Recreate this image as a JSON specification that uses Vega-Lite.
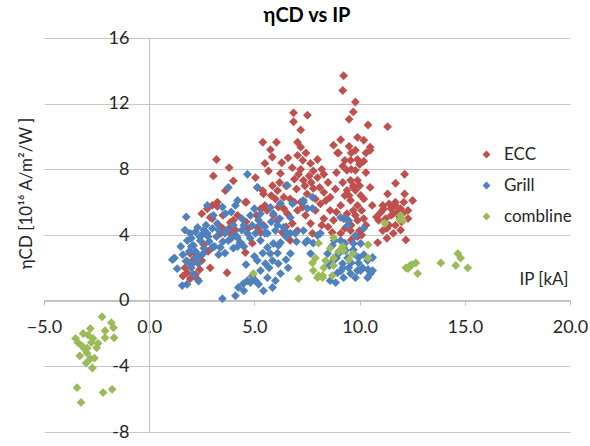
{
  "$schema": "https://vega.github.io/schema/vega-lite/v6.json",
  "width": 526,
  "height": 394,
  "autosize": {"type": "none"},
  "padding": {"left": 44, "top": 38, "right": 20, "bottom": 14},
  "title": {"text": "ηCD vs  IP", "fontSize": 20, "fontWeight": "bold", "font": "Lato", "color": "#000000", "anchor": "middle", "offset": 3},
  "config": {
    "font": "Lato",
    "view": {"stroke": null},
    "axis": {"labelFont": "Lato", "titleFont": "Lato", "labelColor": "#262626", "titleColor": "#262626", "titleFontWeight": "normal"}
  },
  "data": {"values": [
    {"s":"ECC","x":9.24,"y":13.7},{"s":"ECC","x":9.2,"y":12.8},{"s":"ECC","x":9.8,"y":12.1},{"s":"ECC","x":9.7,"y":11.5},{"s":"ECC","x":9.5,"y":11.05},{"s":"ECC","x":10.4,"y":10.7},{"s":"ECC","x":11.33,"y":10.6},{"s":"ECC","x":6.86,"y":11.44},{"s":"ECC","x":6.86,"y":10.9},{"s":"ECC","x":7.52,"y":11.3},
    {"s":"ECC","x":7.2,"y":10.4},{"s":"ECC","x":9.1,"y":9.8},{"s":"ECC","x":9.9,"y":9.95},{"s":"ECC","x":10.2,"y":9.77},{"s":"ECC","x":10.5,"y":9.16},{"s":"ECC","x":6.05,"y":9.65},{"s":"ECC","x":5.4,"y":9.65},{"s":"ECC","x":7.05,"y":9.65},{"s":"ECC","x":7.2,"y":9.35},{"s":"ECC","x":8.76,"y":9.47},
    {"s":"ECC","x":8.95,"y":9.0},{"s":"ECC","x":5.76,"y":9.2},{"s":"ECC","x":5.85,"y":8.75},{"s":"ECC","x":3.2,"y":8.6},{"s":"ECC","x":3.8,"y":8.1},{"s":"ECC","x":3.05,"y":7.6},{"s":"ECC","x":4.0,"y":7.3},{"s":"ECC","x":5.05,"y":7.5},{"s":"ECC","x":12.14,"y":7.7},{"s":"ECC","x":11.71,"y":7.15},
    {"s":"ECC","x":11.33,"y":6.5},{"s":"ECC","x":12.14,"y":6.5},{"s":"ECC","x":12.52,"y":6.1},{"s":"ECC","x":11.7,"y":6.0},{"s":"ECC","x":6.6,"y":8.7},{"s":"ECC","x":7.05,"y":8.85},{"s":"ECC","x":7.3,"y":8.55},{"s":"ECC","x":7.67,"y":8.36},{"s":"ECC","x":6.8,"y":8.1},{"s":"ECC","x":7.2,"y":8.0},
    {"s":"ECC","x":7.8,"y":7.9},{"s":"ECC","x":8.0,"y":7.5},{"s":"ECC","x":8.5,"y":7.2},{"s":"ECC","x":7.8,"y":6.84},{"s":"ECC","x":8.3,"y":6.6},{"s":"ECC","x":8.6,"y":6.3},{"s":"ECC","x":7.33,"y":7.33},{"s":"ECC","x":7.5,"y":6.5},{"s":"ECC","x":7.2,"y":6.0},{"s":"ECC","x":7.05,"y":5.5},
    {"s":"ECC","x":7.43,"y":5.2},{"s":"ECC","x":8.14,"y":5.9},{"s":"ECC","x":8.6,"y":5.5},{"s":"ECC","x":8.76,"y":4.9},{"s":"ECC","x":7.67,"y":4.7},{"s":"ECC","x":7.76,"y":4.1},{"s":"ECC","x":9.1,"y":4.1},{"s":"ECC","x":8.7,"y":4.15},{"s":"ECC","x":5.5,"y":8.36},{"s":"ECC","x":5.67,"y":7.9},
    {"s":"ECC","x":6.24,"y":7.75},{"s":"ECC","x":5.86,"y":7.0},{"s":"ECC","x":6.1,"y":6.7},{"s":"ECC","x":6.4,"y":6.3},{"s":"ECC","x":5.43,"y":6.5},{"s":"ECC","x":5.14,"y":6.9},{"s":"ECC","x":6.14,"y":5.7},{"s":"ECC","x":6.57,"y":5.3},{"s":"ECC","x":6.1,"y":4.9},{"s":"ECC","x":5.5,"y":5.8},
    {"s":"ECC","x":5.14,"y":4.46},{"s":"ECC","x":6.33,"y":4.15},{"s":"ECC","x":6.7,"y":3.67},{"s":"ECC","x":7.05,"y":4.27},{"s":"ECC","x":6.8,"y":4.7},{"s":"ECC","x":6.5,"y":7.0},{"s":"ECC","x":6.9,"y":7.4},{"s":"ECC","x":7.0,"y":6.8},{"s":"ECC","x":7.6,"y":7.6},{"s":"ECC","x":8.2,"y":8.0},
    {"s":"ECC","x":7.9,"y":5.5},{"s":"ECC","x":8.3,"y":5.0},{"s":"ECC","x":6.3,"y":8.4},{"s":"ECC","x":7.45,"y":9.0},{"s":"ECC","x":8.0,"y":8.6},{"s":"ECC","x":6.7,"y":6.2},{"s":"ECC","x":8.1,"y":6.9},{"s":"ECC","x":9.0,"y":9.0},{"s":"ECC","x":9.3,"y":8.55},{"s":"ECC","x":9.57,"y":8.55},
    {"s":"ECC","x":9.4,"y":7.94},{"s":"ECC","x":9.8,"y":7.94},{"s":"ECC","x":9.57,"y":7.33},{"s":"ECC","x":9.9,"y":7.33},{"s":"ECC","x":9.4,"y":6.72},{"s":"ECC","x":9.8,"y":6.72},{"s":"ECC","x":10.05,"y":6.41},{"s":"ECC","x":9.57,"y":6.11},{"s":"ECC","x":9.9,"y":5.8},{"s":"ECC","x":9.7,"y":5.5},
    {"s":"ECC","x":10.1,"y":5.5},{"s":"ECC","x":9.9,"y":4.89},{"s":"ECC","x":9.57,"y":4.27},{"s":"ECC","x":10.0,"y":4.27},{"s":"ECC","x":10.5,"y":6.9},{"s":"ECC","x":10.5,"y":9.35},{"s":"ECC","x":10.3,"y":9.0},{"s":"ECC","x":9.8,"y":9.16},{"s":"ECC","x":9.1,"y":5.8},{"s":"ECC","x":8.9,"y":5.4},
    {"s":"ECC","x":9.3,"y":6.4},{"s":"ECC","x":9.2,"y":7.2},{"s":"ECC","x":10.3,"y":7.8},{"s":"ECC","x":10.0,"y":8.3},{"s":"ECC","x":9.5,"y":9.4},{"s":"ECC","x":10.2,"y":5.0},{"s":"ECC","x":10.3,"y":4.6},{"s":"ECC","x":9.25,"y":5.0},{"s":"ECC","x":8.85,"y":6.8},{"s":"ECC","x":8.9,"y":7.8},
    {"s":"ECC","x":10.6,"y":5.8},{"s":"ECC","x":9.9,"y":3.9},{"s":"ECC","x":10.86,"y":3.54},{"s":"ECC","x":9.6,"y":3.7},{"s":"ECC","x":11.0,"y":5.37},{"s":"ECC","x":11.15,"y":5.6},{"s":"ECC","x":11.5,"y":5.6},{"s":"ECC","x":11.7,"y":5.8},{"s":"ECC","x":11.95,"y":5.6},{"s":"ECC","x":11.6,"y":5.3},
    {"s":"ECC","x":11.9,"y":5.1},{"s":"ECC","x":11.7,"y":4.6},{"s":"ECC","x":11.95,"y":4.3},{"s":"ECC","x":11.24,"y":5.0},{"s":"ECC","x":11.1,"y":4.27},{"s":"ECC","x":11.4,"y":4.6},{"s":"ECC","x":12.1,"y":6.0},{"s":"ECC","x":12.3,"y":5.5},{"s":"ECC","x":12.2,"y":3.7},{"s":"ECC","x":11.3,"y":3.8},
    {"s":"ECC","x":10.9,"y":4.9},{"s":"ECC","x":11.4,"y":5.9},{"s":"ECC","x":12.0,"y":4.8},{"s":"ECC","x":12.3,"y":5.0},{"s":"ECC","x":3.24,"y":5.74},{"s":"ECC","x":2.9,"y":5.07},{"s":"ECC","x":3.5,"y":5.2},{"s":"ECC","x":4.2,"y":5.2},{"s":"ECC","x":4.57,"y":6.0},{"s":"ECC","x":5.3,"y":5.6},
    {"s":"ECC","x":5.1,"y":5.2},{"s":"ECC","x":1.95,"y":2.87},{"s":"ECC","x":2.2,"y":2.9},{"s":"ECC","x":2.5,"y":2.44},{"s":"ECC","x":1.8,"y":1.7},{"s":"ECC","x":1.95,"y":1.34},{"s":"ECC","x":1.6,"y":1.5},{"s":"ECC","x":2.2,"y":1.6},{"s":"ECC","x":2.4,"y":1.9},{"s":"ECC","x":3.7,"y":1.7},
    {"s":"ECC","x":2.9,"y":2.0},{"s":"ECC","x":4.57,"y":2.93},{"s":"ECC","x":3.4,"y":4.1},{"s":"ECC","x":3.86,"y":4.1},{"s":"ECC","x":4.33,"y":3.54},{"s":"ECC","x":3.3,"y":4.6},{"s":"ECC","x":3.86,"y":4.5},{"s":"ECC","x":4.7,"y":4.4},{"s":"ECC","x":5.3,"y":4.15},{"s":"ECC","x":5.6,"y":5.5},
    {"s":"ECC","x":3.62,"y":6.7},{"s":"ECC","x":4.62,"y":6.0},{"s":"ECC","x":3.24,"y":6.0},{"s":"ECC","x":2.76,"y":5.6},{"s":"ECC","x":3.0,"y":5.0},{"s":"ECC","x":5.4,"y":6.7},{"s":"ECC","x":5.43,"y":4.6},{"s":"ECC","x":3.86,"y":4.76},{"s":"ECC","x":4.1,"y":4.3},{"s":"ECC","x":2.0,"y":2.2},
    {"s":"ECC","x":1.7,"y":2.0},{"s":"ECC","x":2.6,"y":3.4},{"s":"ECC","x":4.9,"y":3.5},{"s":"ECC","x":2.8,"y":3.0},
    {"s":"ECC","x":9.6,"y":8.0},{"s":"ECC","x":9.7,"y":7.0},{"s":"ECC","x":10.0,"y":7.0},{"s":"ECC","x":9.5,"y":6.4},{"s":"ECC","x":9.7,"y":6.9},{"s":"ECC","x":10.2,"y":6.2},{"s":"ECC","x":9.4,"y":5.3},{"s":"ECC","x":9.8,"y":5.2},{"s":"ECC","x":9.6,"y":4.6},{"s":"ECC","x":10.1,"y":4.0},
    {"s":"ECC","x":9.3,"y":4.4},{"s":"ECC","x":9.6,"y":9.0},{"s":"ECC","x":9.9,"y":8.6},{"s":"ECC","x":9.2,"y":8.2},{"s":"ECC","x":10.2,"y":8.5},{"s":"ECC","x":7.4,"y":7.0},{"s":"ECC","x":7.7,"y":7.2},{"s":"ECC","x":8.3,"y":7.7},{"s":"ECC","x":8.4,"y":6.1},{"s":"ECC","x":7.9,"y":6.2},
    {"s":"ECC","x":7.3,"y":5.7},{"s":"ECC","x":6.9,"y":6.0},{"s":"ECC","x":6.4,"y":5.6},{"s":"ECC","x":6.0,"y":6.2},{"s":"ECC","x":8.5,"y":4.5},{"s":"ECC","x":8.2,"y":4.6},{"s":"ECC","x":6.5,"y":4.5},{"s":"ECC","x":5.9,"y":5.2},{"s":"ECC","x":6.2,"y":7.2},{"s":"ECC","x":7.1,"y":7.7},
    {"s":"ECC","x":5.8,"y":6.4},{"s":"ECC","x":11.5,"y":5.2},{"s":"ECC","x":11.8,"y":5.4},{"s":"ECC","x":11.3,"y":4.4},{"s":"ECC","x":11.6,"y":4.1},{"s":"ECC","x":12.05,"y":5.3},{"s":"ECC","x":11.1,"y":5.8},{"s":"ECC","x":10.8,"y":5.1},{"s":"ECC","x":2.1,"y":2.5},{"s":"ECC","x":1.8,"y":2.4},
    {"s":"ECC","x":2.3,"y":1.3},{"s":"ECC","x":3.5,"y":4.4},{"s":"ECC","x":4.0,"y":4.9},{"s":"ECC","x":4.6,"y":4.8},{"s":"ECC","x":2.5,"y":5.3},{"s":"ECC","x":3.0,"y":5.8},
    {"s":"Grill","x":4.67,"y":7.7},{"s":"Grill","x":5.14,"y":6.9},{"s":"Grill","x":3.76,"y":6.9},{"s":"Grill","x":4.2,"y":6.1},{"s":"Grill","x":2.76,"y":5.8},{"s":"Grill","x":1.76,"y":5.1},{"s":"Grill","x":3.48,"y":5.7},{"s":"Grill","x":3.62,"y":5.3},{"s":"Grill","x":3.05,"y":5.2},{"s":"Grill","x":3.24,"y":4.7},
    {"s":"Grill","x":2.3,"y":4.46},{"s":"Grill","x":1.95,"y":4.1},{"s":"Grill","x":1.81,"y":3.66},{"s":"Grill","x":2.1,"y":3.36},{"s":"Grill","x":2.43,"y":3.66},{"s":"Grill","x":2.76,"y":4.1},{"s":"Grill","x":2.19,"y":2.6},{"s":"Grill","x":1.95,"y":2.26},{"s":"Grill","x":1.57,"y":0.92},{"s":"Grill","x":1.1,"y":2.5},
    {"s":"Grill","x":1.33,"y":1.95},{"s":"Grill","x":2.33,"y":2.26},{"s":"Grill","x":2.57,"y":2.87},{"s":"Grill","x":3.0,"y":3.24},{"s":"Grill","x":3.38,"y":3.24},{"s":"Grill","x":3.76,"y":3.66},{"s":"Grill","x":4.19,"y":3.85},{"s":"Grill","x":4.33,"y":3.54},{"s":"Grill","x":4.67,"y":4.1},{"s":"Grill","x":5.05,"y":4.1},
    {"s":"Grill","x":4.9,"y":4.58},{"s":"Grill","x":4.81,"y":5.19},{"s":"Grill","x":5.29,"y":5.3},{"s":"Grill","x":5.76,"y":5.68},{"s":"Grill","x":5.9,"y":5.3},{"s":"Grill","x":6.24,"y":5.92},{"s":"Grill","x":6.57,"y":7.02},{"s":"Grill","x":6.81,"y":5.92},{"s":"Grill","x":6.71,"y":5.07},{"s":"Grill","x":6.38,"y":4.46},
    {"s":"Grill","x":6.0,"y":4.27},{"s":"Grill","x":5.62,"y":4.1},{"s":"Grill","x":5.29,"y":3.66},{"s":"Grill","x":5.9,"y":3.48},{"s":"Grill","x":6.24,"y":3.54},{"s":"Grill","x":6.71,"y":4.1},{"s":"Grill","x":6.95,"y":4.1},{"s":"Grill","x":7.33,"y":4.27},{"s":"Grill","x":7.76,"y":6.3},{"s":"Grill","x":7.33,"y":6.0},
    {"s":"Grill","x":7.76,"y":5.62},{"s":"Grill","x":8.14,"y":4.1},{"s":"Grill","x":7.52,"y":3.66},{"s":"Grill","x":3.48,"y":0.12},{"s":"Grill","x":4.1,"y":0.3},{"s":"Grill","x":4.24,"y":0.8},{"s":"Grill","x":4.48,"y":1.04},{"s":"Grill","x":4.67,"y":1.22},{"s":"Grill","x":4.81,"y":1.1},{"s":"Grill","x":5.05,"y":1.22},
    {"s":"Grill","x":5.43,"y":0.6},{"s":"Grill","x":5.86,"y":0.8},{"s":"Grill","x":5.62,"y":1.4},{"s":"Grill","x":5.29,"y":1.83},{"s":"Grill","x":5.52,"y":2.26},{"s":"Grill","x":5.86,"y":2.44},{"s":"Grill","x":6.14,"y":2.26},{"s":"Grill","x":5.76,"y":2.87},{"s":"Grill","x":5.14,"y":2.44},{"s":"Grill","x":5.0,"y":2.7},
    {"s":"Grill","x":5.62,"y":3.24},{"s":"Grill","x":6.14,"y":3.36},{"s":"Grill","x":6.71,"y":2.87},{"s":"Grill","x":6.6,"y":2.0},{"s":"Grill","x":6.24,"y":1.65},{"s":"Grill","x":6.0,"y":1.22},{"s":"Grill","x":6.5,"y":2.5},{"s":"Grill","x":8.71,"y":3.36},{"s":"Grill","x":9.1,"y":3.66},{"s":"Grill","x":9.24,"y":3.24},
    {"s":"Grill","x":9.0,"y":2.87},{"s":"Grill","x":9.43,"y":2.6},{"s":"Grill","x":8.76,"y":2.44},{"s":"Grill","x":9.19,"y":2.26},{"s":"Grill","x":9.48,"y":2.0},{"s":"Grill","x":8.95,"y":1.7},{"s":"Grill","x":8.6,"y":1.22},{"s":"Grill","x":8.86,"y":1.1},{"s":"Grill","x":9.24,"y":1.4},{"s":"Grill","x":9.57,"y":1.65},
    {"s":"Grill","x":9.9,"y":1.83},{"s":"Grill","x":10.14,"y":2.0},{"s":"Grill","x":10.38,"y":2.44},{"s":"Grill","x":10.52,"y":1.65},{"s":"Grill","x":10.38,"y":1.4},{"s":"Grill","x":9.95,"y":2.3},{"s":"Grill","x":9.71,"y":3.48},{"s":"Grill","x":10.05,"y":3.48},{"s":"Grill","x":10.19,"y":4.4},{"s":"Grill","x":9.43,"y":4.58},
    {"s":"Grill","x":9.1,"y":5.07},{"s":"Grill","x":7.52,"y":5.62},{"s":"Grill","x":7.33,"y":6.11},{"s":"Grill","x":7.67,"y":2.87},{"s":"Grill","x":8.0,"y":3.97},{"s":"Grill","x":8.48,"y":2.87},{"s":"Grill","x":9.48,"y":4.89},{"s":"Grill","x":9.8,"y":3.97},{"s":"Grill","x":10.62,"y":2.63},{"s":"Grill","x":10.62,"y":1.83},
    {"s":"Grill","x":10.05,"y":1.83},{"s":"Grill","x":9.71,"y":2.87},{"s":"Grill","x":9.95,"y":2.63},{"s":"Grill","x":9.33,"y":3.05},{"s":"Grill","x":8.8,"y":3.66},{"s":"Grill","x":8.57,"y":2.14},{"s":"Grill","x":1.7,"y":4.3},{"s":"Grill","x":1.9,"y":3.0},{"s":"Grill","x":2.0,"y":3.8},{"s":"Grill","x":2.2,"y":4.2},
    {"s":"Grill","x":2.5,"y":4.0},{"s":"Grill","x":2.6,"y":3.2},{"s":"Grill","x":2.4,"y":2.7},{"s":"Grill","x":2.0,"y":2.0},{"s":"Grill","x":1.75,"y":2.4},{"s":"Grill","x":2.7,"y":4.6},{"s":"Grill","x":3.0,"y":4.4},{"s":"Grill","x":3.2,"y":3.9},{"s":"Grill","x":3.5,"y":3.6},{"s":"Grill","x":3.7,"y":4.3},
    {"s":"Grill","x":4.0,"y":4.6},{"s":"Grill","x":4.4,"y":4.3},{"s":"Grill","x":4.5,"y":3.3},{"s":"Grill","x":4.0,"y":3.2},{"s":"Grill","x":3.6,"y":2.9},{"s":"Grill","x":3.3,"y":2.8},{"s":"Grill","x":4.8,"y":3.8},{"s":"Grill","x":5.2,"y":4.9},{"s":"Grill","x":5.5,"y":4.5},{"s":"Grill","x":4.4,"y":5.0},
    {"s":"Grill","x":3.9,"y":5.4},{"s":"Grill","x":4.1,"y":5.8},{"s":"Grill","x":2.85,"y":3.6},{"s":"Grill","x":3.1,"y":3.3},{"s":"Grill","x":1.5,"y":3.3},{"s":"Grill","x":2.1,"y":1.6},{"s":"Grill","x":1.2,"y":2.6},{"s":"Grill","x":1.8,"y":1.0},{"s":"Grill","x":5.8,"y":4.8},{"s":"Grill","x":6.5,"y":3.9},
    {"s":"Grill","x":7.0,"y":3.6},{"s":"Grill","x":7.8,"y":3.5},{"s":"Grill","x":6.2,"y":5.0},{"s":"Grill","x":5.0,"y":5.6},{"s":"Grill","x":4.6,"y":2.2},{"s":"Grill","x":2.35,"y":1.2},{"s":"Grill","x":6.95,"y":4.15},{"s":"Grill","x":7.43,"y":3.54},{"s":"Grill","x":9.33,"y":5.0},{"s":"Grill","x":6.1,"y":2.9},
    {"s":"Grill","x":2.2,"y":3.0},{"s":"Grill","x":2.4,"y":3.9},{"s":"Grill","x":2.8,"y":3.9},{"s":"Grill","x":3.3,"y":4.3},{"s":"Grill","x":3.6,"y":4.1},{"s":"Grill","x":4.1,"y":4.0},{"s":"Grill","x":4.5,"y":4.6},{"s":"Grill","x":3.9,"y":3.8},{"s":"Grill","x":2.0,"y":3.3},{"s":"Grill","x":1.6,"y":2.8},
    {"s":"Grill","x":2.6,"y":4.3},{"s":"Grill","x":4.2,"y":3.3},{"s":"Grill","x":5.5,"y":4.1},{"s":"Grill","x":5.3,"y":4.6},{"s":"Grill","x":6.1,"y":4.6},{"s":"Grill","x":6.5,"y":4.2},{"s":"Grill","x":4.9,"y":1.5},{"s":"Grill","x":5.2,"y":1.0},{"s":"Grill","x":4.5,"y":0.6},{"s":"Grill","x":5.7,"y":2.0},
    {"s":"Grill","x":5.4,"y":2.9},{"s":"Grill","x":9.2,"y":2.0},{"s":"Grill","x":9.6,"y":2.3},{"s":"Grill","x":9.1,"y":1.8},{"s":"Grill","x":9.8,"y":1.4},{"s":"Grill","x":10.2,"y":2.8},{"s":"Grill","x":8.9,"y":2.6},{"s":"Grill","x":9.3,"y":3.5},{"s":"Grill","x":9.7,"y":3.1},{"s":"Grill","x":10.4,"y":1.9},
    {"s":"combline","x":-2.24,"y":-0.98},{"s":"combline","x":-1.8,"y":-1.34},{"s":"combline","x":-1.7,"y":-1.65},{"s":"combline","x":-2.1,"y":-1.83},{"s":"combline","x":-1.67,"y":-2.26},{"s":"combline","x":-2.1,"y":-2.26},{"s":"combline","x":-2.8,"y":-1.7},{"s":"combline","x":-3.14,"y":-2.0},{"s":"combline","x":-3.5,"y":-2.3},{"s":"combline","x":-3.38,"y":-2.56},
    {"s":"combline","x":-3.2,"y":-2.75},{"s":"combline","x":-2.95,"y":-2.9},{"s":"combline","x":-2.5,"y":-2.87},{"s":"combline","x":-2.67,"y":-2.3},{"s":"combline","x":-2.95,"y":-3.2},{"s":"combline","x":-3.3,"y":-3.36},{"s":"combline","x":-2.8,"y":-3.54},{"s":"combline","x":-2.7,"y":-4.1},{"s":"combline","x":-2.43,"y":-2.6},{"s":"combline","x":-3.43,"y":-5.3},
    {"s":"combline","x":-3.24,"y":-6.2},{"s":"combline","x":-2.19,"y":-5.6},{"s":"combline","x":-1.76,"y":-5.4},{"s":"combline","x":-3.1,"y":-2.9},{"s":"combline","x":-2.9,"y":-2.1},{"s":"combline","x":-2.6,"y":-3.5},{"s":"combline","x":-2.75,"y":-2.55},{"s":"combline","x":-3.0,"y":-3.8},
    {"s":"combline","x":4.95,"y":1.65},{"s":"combline","x":7.1,"y":1.34},{"s":"combline","x":7.76,"y":2.3},{"s":"combline","x":7.8,"y":1.83},{"s":"combline","x":8.0,"y":1.4},{"s":"combline","x":8.24,"y":1.53},{"s":"combline","x":8.38,"y":2.44},{"s":"combline","x":8.76,"y":2.14},{"s":"combline","x":8.76,"y":2.6},{"s":"combline","x":8.7,"y":1.53},
    {"s":"combline","x":8.05,"y":3.5},{"s":"combline","x":8.76,"y":3.85},{"s":"combline","x":8.6,"y":3.2},{"s":"combline","x":9.2,"y":3.3},{"s":"combline","x":9.24,"y":3.05},{"s":"combline","x":9.67,"y":2.87},{"s":"combline","x":10.4,"y":3.4},{"s":"combline","x":10.4,"y":2.6},{"s":"combline","x":11.2,"y":4.7},{"s":"combline","x":11.95,"y":5.2},
    {"s":"combline","x":12.05,"y":4.9},{"s":"combline","x":11.9,"y":4.95},{"s":"combline","x":12.2,"y":2.0},{"s":"combline","x":12.4,"y":2.14},{"s":"combline","x":12.67,"y":2.3},{"s":"combline","x":12.5,"y":2.2},{"s":"combline","x":12.76,"y":1.65},{"s":"combline","x":12.3,"y":1.95},{"s":"combline","x":13.86,"y":2.3},{"s":"combline","x":14.67,"y":2.87},
    {"s":"combline","x":14.8,"y":2.6},{"s":"combline","x":14.57,"y":2.14},{"s":"combline","x":15.14,"y":2.0},{"s":"combline","x":8.3,"y":2.0},{"s":"combline","x":9.5,"y":2.5},{"s":"combline","x":9.0,"y":3.0},{"s":"combline","x":7.9,"y":2.6},{"s":"combline","x":8.05,"y":1.53},{"s":"combline","x":8.24,"y":1.4}
  ]},
  "mark": {"type": "point", "shape": "diamond", "filled": true, "size": 78, "opacity": 1},
  "encoding": {
    "x": {
      "field": "x", "type": "quantitative",
      "scale": {"domain": [-5, 20], "nice": false, "zero": false},
      "axis": {
        "orient": "bottom", "offset": -132, "values": [-5, 0, 5, 10, 15, 20], "format": ".1f",
        "grid": false, "domainColor": "#bfbfbf", "tickColor": "#bfbfbf", "tickSize": 5,
        "labelFontSize": 18, "labelPadding": 13, "labelFlush": false,
        "title": "IP [kA]", "titleFontSize": 17, "titleX": 524, "titleY": -21, "titleAlign": "right", "titleBaseline": "middle", "titleAnchor": null
      }
    },
    "y": {
      "field": "y", "type": "quantitative",
      "scale": {"domain": [-8, 16], "nice": false, "zero": false},
      "axis": {
        "orient": "left", "offset": -105, "values": [-8, -4, 0, 4, 8, 12, 16], "format": "d",
        "labelExpr": "replace(datum.label, '−', '-')",
        "grid": true, "gridColor": "#c8c8c8", "domainColor": "#bfbfbf", "ticks": false,
        "labelFontSize": 18, "labelPadding": 20, "labelFlush": false,
        "title": "ηCD [10¹⁶ A/m²/W ]", "titleFontSize": 17, "titleX": -123, "titleY": 155, "titleAngle": 270, "titleAlign": "center", "titleBaseline": "middle", "titleAnchor": null
      }
    },
    "color": {
      "field": "s", "type": "nominal",
      "scale": {"domain": ["ECC", "Grill", "combline"], "range": ["#C0504D", "#4F81BD", "#9BBB59"]},
      "legend": {
        "orient": "none", "legendX": 434, "legendY": 108, "title": null, "padding": 0,
        "symbolType": "diamond", "symbolSize": 62, "labelFontSize": 17, "labelColor": "#262626",
        "rowPadding": 13, "labelOffset": 9
      }
    }
  }
}
